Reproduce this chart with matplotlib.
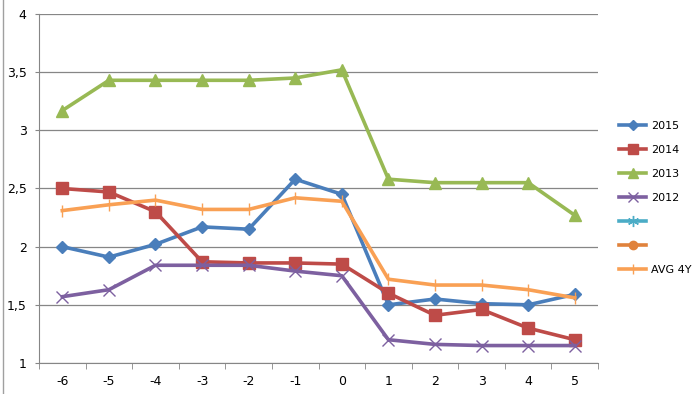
import matplotlib
matplotlib.use("Agg")
import matplotlib.pyplot as plt
from matplotlib.lines import Line2D
from matplotlib.ticker import FuncFormatter

categories = [-6, -5, -4, -3, -2, -1, 0, 1, 2, 3, 4, 5]
s2015 = [2.00, 1.91, 2.02, 2.17, 2.15, 2.58, 2.45, 1.50, 1.55, 1.51, 1.50, 1.59]
s2014 = [2.50, 2.47, 2.30, 1.87, 1.86, 1.86, 1.85, 1.60, 1.41, 1.46, 1.30, 1.20]
s2013 = [3.17, 3.43, 3.43, 3.43, 3.43, 3.45, 3.52, 2.58, 2.55, 2.55, 2.55, 2.27]
s2012 = [1.57, 1.63, 1.84, 1.84, 1.84, 1.79, 1.75, 1.20, 1.16, 1.15, 1.15, 1.15]
avg4y = [2.31, 2.36, 2.40, 2.32, 2.32, 2.42, 2.39, 1.72, 1.67, 1.67, 1.63, 1.56]
labels = ["2015", "2014", "2013", "2012", "", "", "AVG 4Y"]

fig = plt.figure(figsize=(6.98, 3.94), dpi=100)
ax = fig.add_axes([0.0559, 0.0787, 0.8009, 0.8858])
x = list(range(len(categories)))
lw = 2.6
ax.plot(x, s2015, color="#4A7EBB", lw=lw, marker="D", ms=6, zorder=3)
ax.plot(x, s2014, color="#BE4B48", lw=lw, marker="s", ms=8, zorder=3)
ax.plot(x, s2013, color="#98B954", lw=lw, marker="^", ms=8, zorder=3)
ax.plot(x, s2012, color="#7D60A0", lw=lw, marker="x", ms=8, mew=1, zorder=3)
ax.plot(x, avg4y, color="#F9A054", lw=lw, marker="|", ms=8, mew=1, zorder=3)

ax.set_xlim(-0.5, len(categories) - 0.5)
ax.set_ylim(1, 4)
ax.set_yticks([1, 1.5, 2, 2.5, 3, 3.5, 4])
ax.yaxis.set_major_formatter(FuncFormatter(lambda v, p: ("%g" % v).replace(".", ",")))
ax.set_xticks(x)
ax.set_xticklabels([str(c) for c in categories])
ax.set_xticks([i - 0.5 for i in range(len(categories) + 1)], minor=True)
ax.tick_params(axis="x", which="major", length=0, pad=9, labelsize=9)
ax.tick_params(axis="x", which="minor", length=4, color="#868686", direction="out")
ax.tick_params(axis="y", length=3, color="#868686", labelsize=9, pad=6)
ax.grid(axis="y", color="#868686", lw=0.9)
for sp in ["top", "right"]:
    ax.spines[sp].set_visible(False)
for sp in ["left", "bottom"]:
    ax.spines[sp].set_color("#868686")
ax.set_axisbelow(True)

handles = [
    Line2D([], [], color="#4A7EBB", lw=lw, marker="D", ms=5),
    Line2D([], [], color="#BE4B48", lw=lw, marker="s", ms=7),
    Line2D([], [], color="#98B954", lw=lw, marker="^", ms=7),
    Line2D([], [], color="#7D60A0", lw=lw, marker="x", ms=7, mew=1),
    Line2D([], [], color="#4BACC6", lw=lw, marker=(6, 2, 0), ms=8, mew=1),
    Line2D([], [], color="#E0823C", lw=lw, marker="o", ms=6),
    Line2D([], [], color="#F9A054", lw=lw, marker="|", ms=7, mew=1),
]
fig.legend(handles, labels, loc="upper left", bbox_to_anchor=(0.88, 0.705),
           frameon=False, fontsize=8, handlelength=2.5, labelspacing=1.27,
           handletextpad=0.4, borderaxespad=0)

fig.add_artist(Line2D([0.004, 0.004], [0, 1], color="#A0A0A0", lw=1, transform=fig.transFigure))
fig.savefig("out.png", dpi=100)
